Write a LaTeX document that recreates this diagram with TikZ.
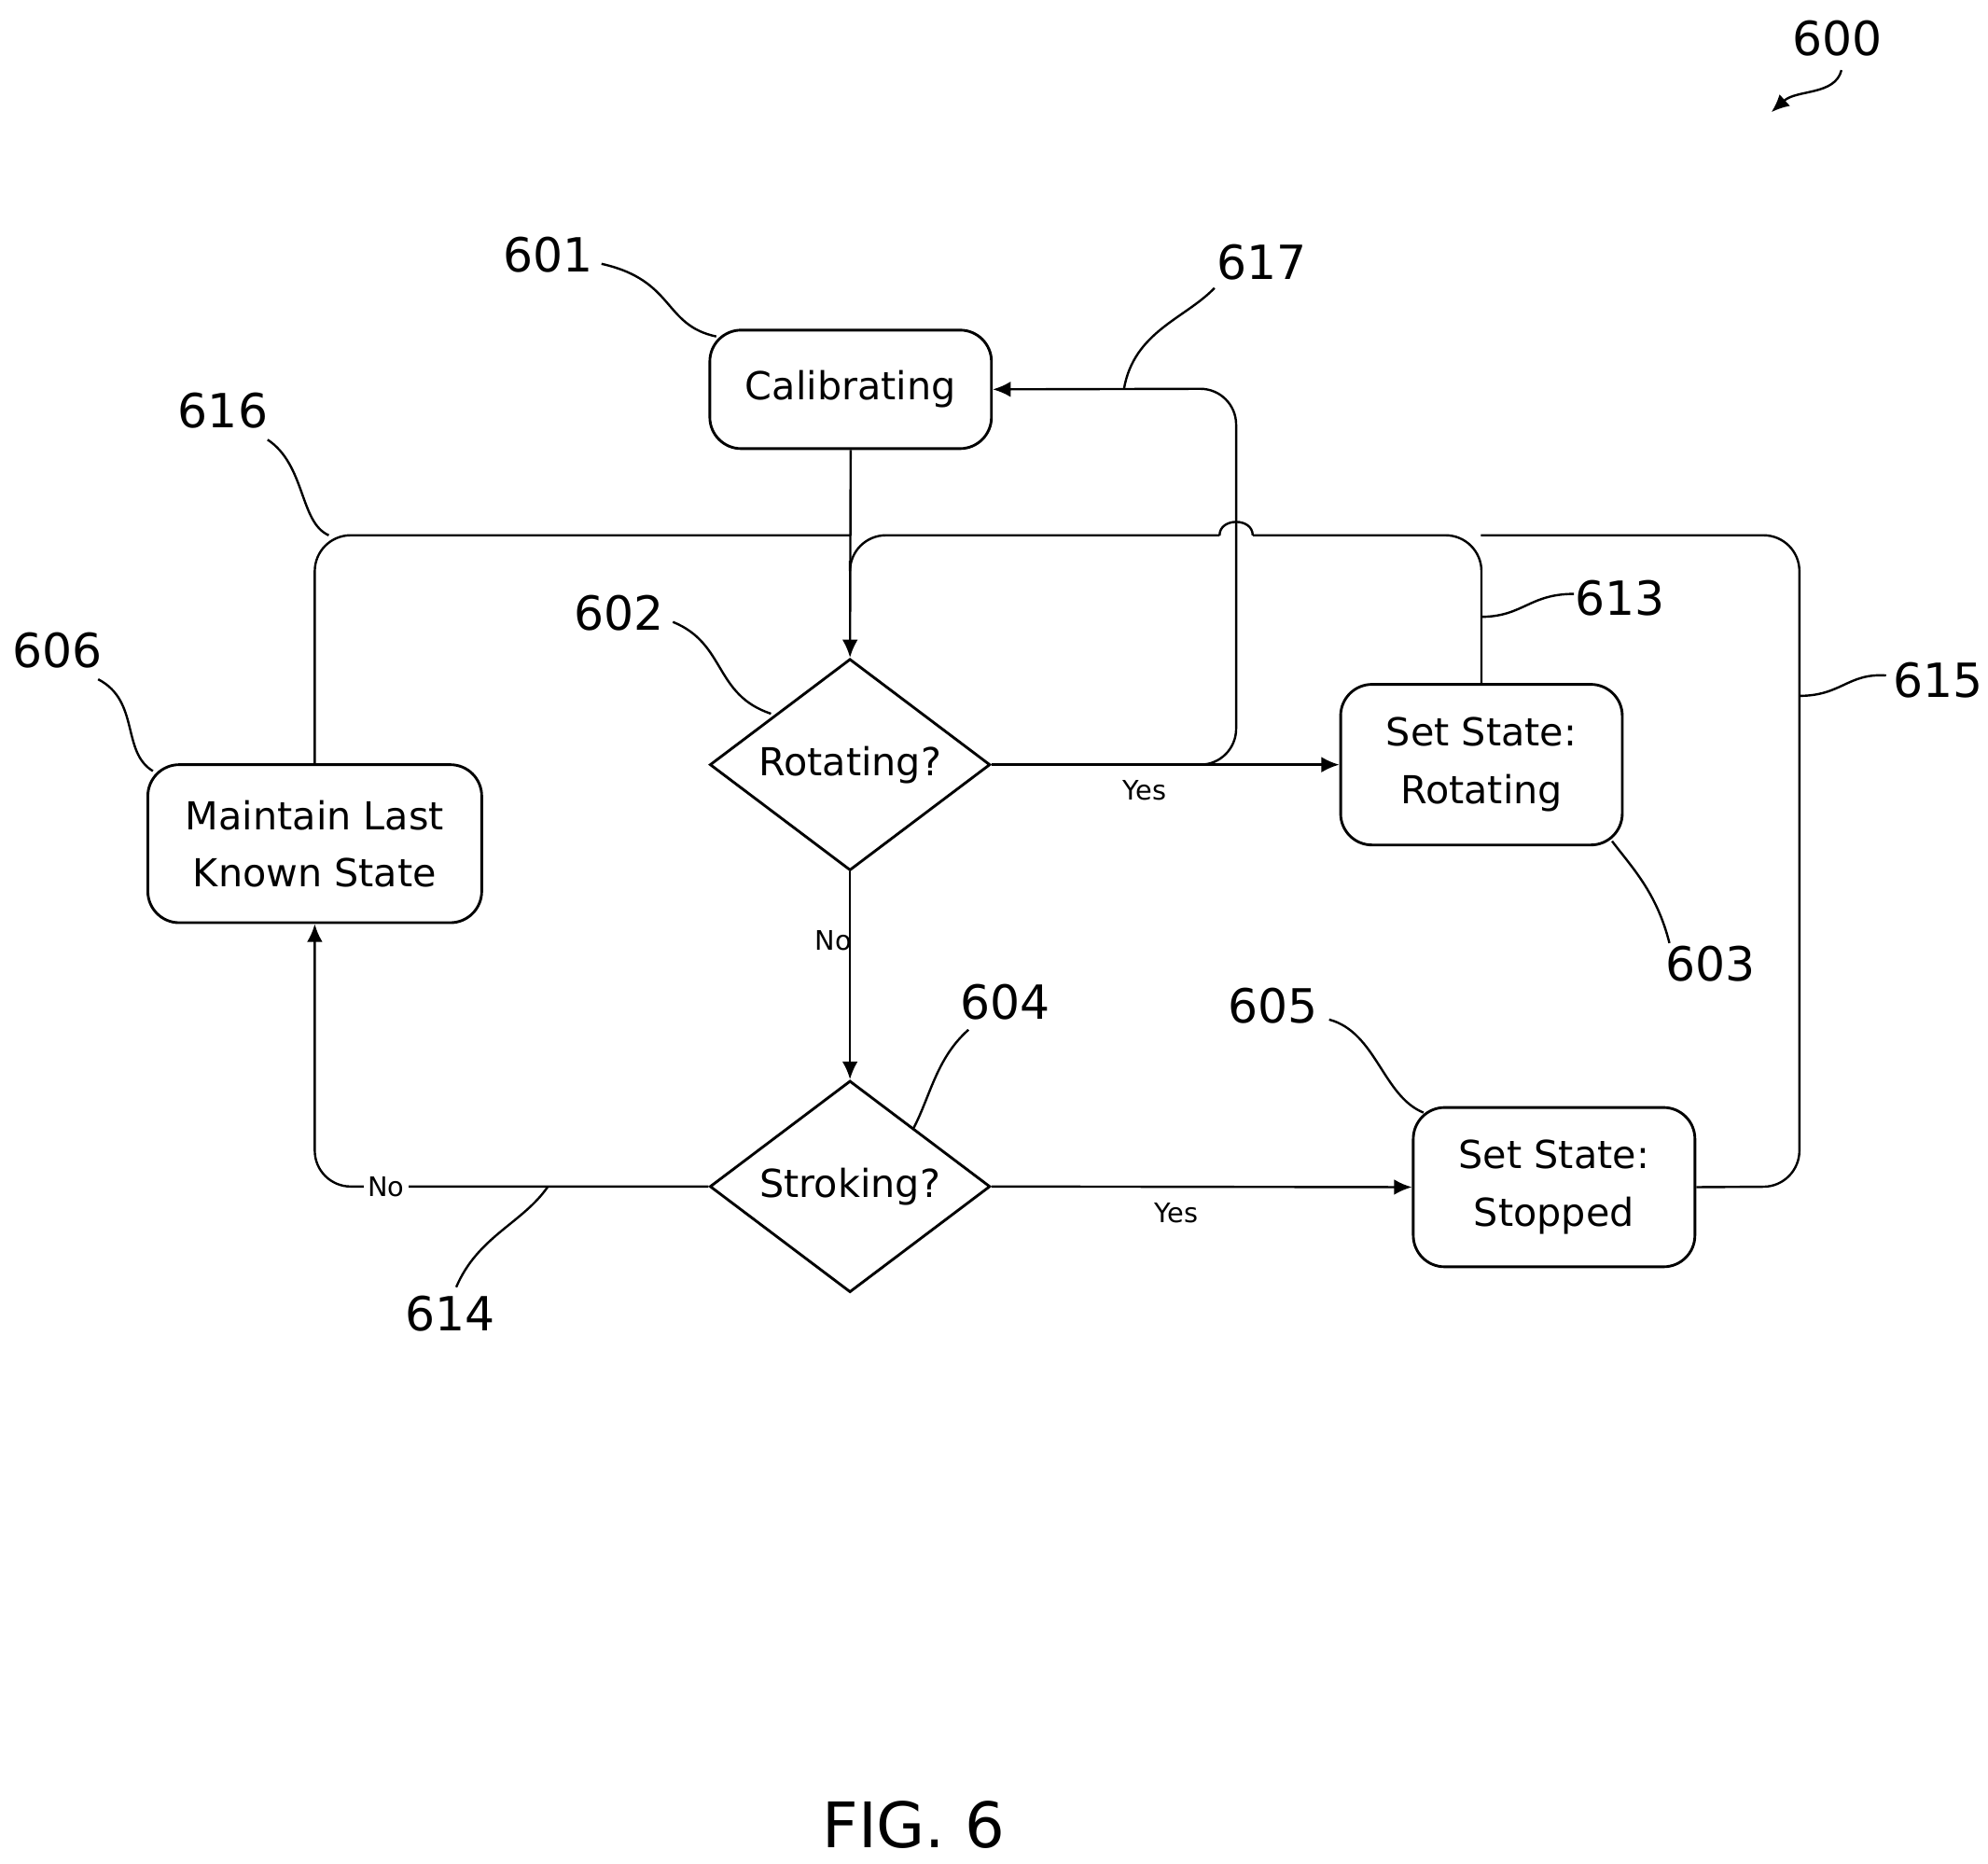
\documentclass[tikz,border=0pt]{standalone}
\usepackage{fontspec}
\setmainfont{DejaVu Sans}
\usetikzlibrary{shapes.geometric,arrows.meta}
\begin{document}
\begin{tikzpicture}[x=0.01cm,y=-0.01cm,
  box/.style={draw,rounded corners=7,line width=0.6pt,align=center,font=\fontsize{8.6}{12.8}\selectfont,inner sep=0},
  dia/.style={draw,diamond,line width=0.6pt,minimum width=220*0.01cm,minimum height=166*0.01cm,font=\fontsize{8.6}{11}\selectfont,inner sep=0,aspect=1.33},
  ln/.style={line width=0.5pt},
  arr/.style={ln,-{Latex[length=4pt,width=3.5pt]}},
  ref/.style={font=\fontsize{10.5}{13}\selectfont},
  yn/.style={font=\fontsize{6}{7}\selectfont}]
\useasboundingbox (0,0) rectangle (1560,1462);
\node[box,minimum width=221*0.01cm,minimum height=93*0.01cm] (cal) at (667.5,305.5) {Calibrating};
\node[dia] (rot) at (667,600) {Rotating?};
\node[dia] (str) at (667,931) {Stroking?};
\node[box,minimum width=221*0.01cm,minimum height=126*0.01cm] (sr) at (1162.5,600) {Set State:\\Rotating};
\node[box,minimum width=221*0.01cm,minimum height=125*0.01cm] (ss) at (1219.5,931.5) {Set State:\\Stopped};
\node[box,minimum width=262*0.01cm,minimum height=124*0.01cm] (ml) at (247,662) {Maintain Last\\Known State};
\coordinate (j) at (667,420);
\draw[arr] (cal.south) -- (rot.north);
\draw[ln,rounded corners=8] (ml.north) |- (j);
\draw[ln,rounded corners=8] (sr.north) |- (983,420);
\draw[ln] (983,420) .. controls (983,406) and (957,406) .. (957,420);
\draw[ln,rounded corners=8] (957,420) -- (667,420) -- (667,440);
\draw[ln,rounded corners=8] (ss.east) -- (1412,931) -- (1412,420) -- (1162,420);
\draw[arr,rounded corners=8] (rot.east) -- (970,600) -- (970,305) -- (cal.east);
\draw[arr] (rot.east) -- node[yn,below,pos=0.44]{Yes} (sr.west);
\draw[arr] (rot.south) -- node[yn,left,pos=0.33,xshift=4pt]{No} (str.north);
\draw[arr] (str.east) -- node[yn,below,pos=0.44]{Yes} (ss.west);
\draw[arr,rounded corners=8] (str.west) -- (247,931) -- (ml.south);
\node[yn,fill=white,inner sep=1pt] (no2) at (303,931) {No};
\node[ref] (r600) at (1442,30) {600};
\node[ref] (r601) at (430,200) {601};
\node[ref] (r617) at (990,206) {617};
\node[ref] (r616) at (175,322) {616};
\node[ref] (r602) at (486,481) {602};
\node[ref] (r606) at (45,510) {606};
\node[ref] (r613) at (1271,469) {613};
\node[ref] (r615) at (1521,534) {615};
\node[ref] (r603) at (1342,756) {603};
\node[ref] (r604) at (789,786) {604};
\node[ref] (r605) at (999,789) {605};
\node[ref] (r614) at (353,1031) {614};
\node[font=\fontsize{14}{16}\selectfont] (fig) at (717,1432) {FIG. 6};
\draw[arr,line width=0.5pt] (1445,55) .. controls (1440,75) and (1410,70) .. (1390,88);
\draw[line width=0.5pt] (472,207) .. controls (530,220) and (520,255) .. (562,264);
\draw[line width=0.5pt] (953,226) .. controls (930,250) and (890,260) .. (882,305);
\draw[line width=0.5pt] (210,345) .. controls (240,365) and (235,410) .. (258,420);
\draw[line width=0.5pt] (528,488) .. controls (570,505) and (560,545) .. (605,560);
\draw[line width=0.5pt] (77,533) .. controls (110,550) and (95,590) .. (120,605);
\draw[line width=0.5pt] (1235,466) .. controls (1200,466) and (1195,484) .. (1162,484);
\draw[line width=0.5pt] (1480,530) .. controls (1450,528) and (1445,546) .. (1412,546);
\draw[line width=0.5pt] (1310,740) .. controls (1300,700) and (1280,680) .. (1265,660);
\draw[line width=0.5pt] (760,808) .. controls (735,830) and (730,860) .. (717,885);
\draw[line width=0.5pt] (1043,800) .. controls (1080,810) and (1085,860) .. (1117,873);
\draw[line width=0.5pt] (358,1010) .. controls (375,970) and (410,960) .. (430,931);
\end{tikzpicture}
\end{document}
